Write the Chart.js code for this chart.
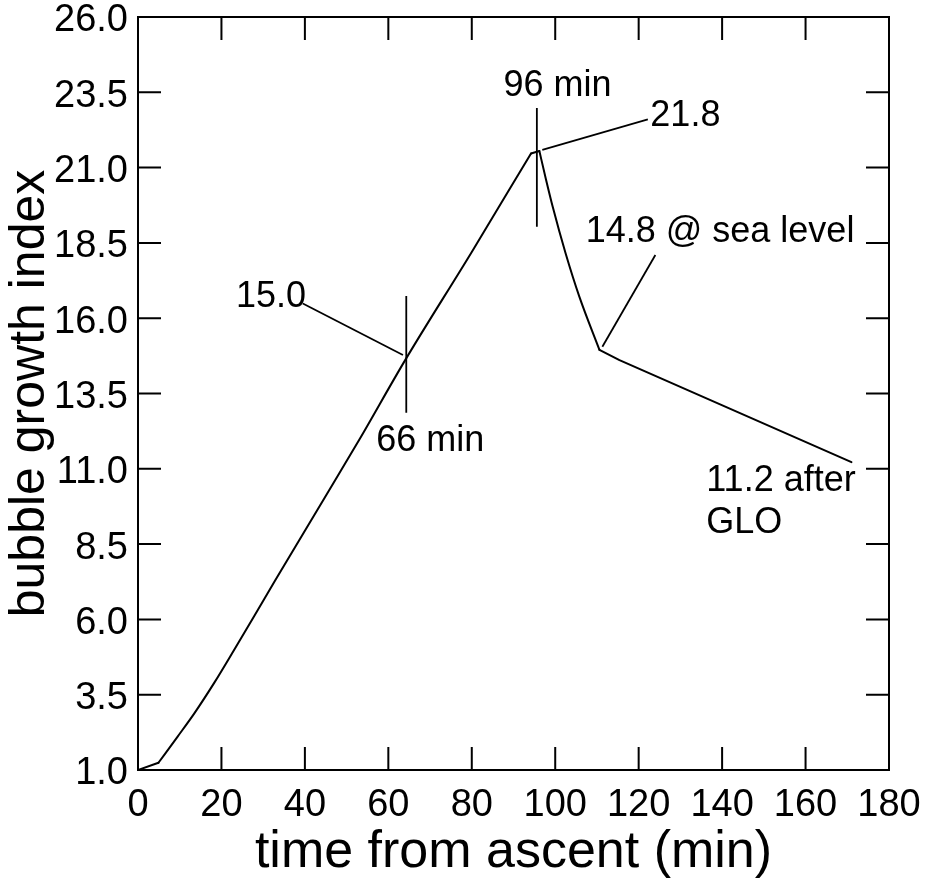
<!DOCTYPE html>
<html><head><meta charset="utf-8">
<script src="https://cdn.jsdelivr.net/npm/chart.js@4.4.0/dist/chart.umd.min.js"></script>
<style>html,body{margin:0;padding:0;background:#fff;}#wrap{width:925px;height:884px;}</style>
</head><body><div id="wrap"><canvas id="c" width="925" height="884"></canvas></div>
<script>
// ---- data ----
const timeMin     = [0, 4.9, 9.5, 13.5, 18.3, 23.1, 27.9, 32.9, 45.1, 53.1, 64.0, 80.0, 94.2, 96.2, 97.8, 99.4, 102.5, 105.8, 110.6, 115.4, 140.2, 171.0];
const growthIndex = [1.0, 1.24, 2.11, 2.88, 3.90, 5.00, 6.12, 7.30, 10.12, 11.98, 14.60, 18.20, 21.47, 21.55, 20.60, 19.70, 18.15, 16.71, 14.95, 14.61, 13.10, 11.22];
// times where the curve bends sharply (segments between them are smoothed or straight)
const breakTimes    = [0, 4.9, 94.2, 96.2, 110.6, 171.0];
const segmentSmooth = [false, true, false, true, false];
const xTicks = [0, 20, 40, 60, 80, 100, 120, 140, 160, 180];
const yTicks = [1.0, 3.5, 6.0, 8.5, 11.0, 13.5, 16.0, 18.5, 21.0, 23.5, 26.0];
const xTitle = 'time from ascent (min)';
const yTitle = 'bubble growth index';

// annotation leader lines / markers (data units: [x1, y1, x2, y2])
const markerLines = [
  [64.3, 16.74, 64.3, 12.86],   // 66 min marker
  [39.5, 16.49, 63.5, 14.78],   // 15.0 leader
  [95.6, 22.98, 95.6, 19.04],   // 96 min marker
  [96.9, 21.59, 122.2, 22.60],  // 21.8 leader
  [124.0, 18.10, 111.3, 15.05]  // 14.8 leader
];
// annotation texts with anchor (left x, middle y) in data units
const noteTexts = ['15.0', '66 min', '96 min', '21.8', '14.8 @ sea level', '11.2 after', 'GLO'];
const noteX     = [23.5, 57.1, 87.6, 122.8, 107.3, 136.2, 136.2];
const noteY     = [16.69, 11.91, 23.69, 22.70, 18.85, 10.58, 9.19];

const FONT = "'Liberation Sans', Arial, sans-serif";

const pts = timeMin.map((t, i) => ({x: t, y: growthIndex[i]}));
const datasets = [];
for (let s = 0; s < breakTimes.length - 1; s++) {
  const a = breakTimes[s], b = breakTimes[s + 1];
  datasets.push({
    data: pts.filter(p => p.x >= a && p.x <= b),
    borderColor: '#000', borderWidth: 2, pointRadius: 0, showLine: true, fill: false,
    borderCapStyle: 'round', borderJoinStyle: 'round',
    cubicInterpolationMode: segmentSmooth[s] ? 'monotone' : 'default', tension: 0
  });
}
markerLines.forEach(l => datasets.push({
  data: [{x: l[0], y: l[1]}, {x: l[2], y: l[3]}],
  borderColor: '#000', borderWidth: 1.8, pointRadius: 0, showLine: true, fill: false
}));

const framePlugin = {
  id: 'frame',
  afterDatasetsDraw(chart) {
    const {ctx, chartArea: a, scales: {x, y}} = chart;
    ctx.save();
    ctx.strokeStyle = '#000';
    ctx.lineWidth = 2;
    ctx.strokeRect(a.left, a.top, a.right - a.left, a.bottom - a.top);
    const L = 23;
    ctx.beginPath();
    xTicks.forEach(v => {
      const px = x.getPixelForValue(v);
      ctx.moveTo(px, a.bottom); ctx.lineTo(px, a.bottom - L);
      ctx.moveTo(px, a.top); ctx.lineTo(px, a.top + L);
    });
    yTicks.forEach(v => {
      const py = y.getPixelForValue(v);
      ctx.moveTo(a.left, py); ctx.lineTo(a.left + L, py);
      ctx.moveTo(a.right, py); ctx.lineTo(a.right - L, py);
    });
    ctx.stroke();
    ctx.fillStyle = '#000';
    ctx.font = '36px ' + FONT;
    ctx.textAlign = 'left';
    ctx.textBaseline = 'middle';
    noteTexts.forEach((t, i) => {
      ctx.fillText(t, x.getPixelForValue(noteX[i]), y.getPixelForValue(noteY[i]));
    });
    ctx.restore();
  }
};

new Chart(document.getElementById('c'), {
  type: 'scatter',
  data: {datasets},
  options: {
    responsive: false, animation: false, devicePixelRatio: 1,
    layout: {padding: {left: 0, top: 17, right: 36, bottom: 0}},
    plugins: {legend: {display: false}, tooltip: {enabled: false}},
    scales: {
      x: {
        type: 'linear', min: 0, max: 180,
        afterBuildTicks: s => { s.ticks = xTicks.map(v => ({value: v})); },
        afterFit: s => { s.height = 114; s.paddingLeft = 0; s.paddingRight = 0; },
        grid: {display: false, drawTicks: false},
        border: {display: false},
        ticks: {color: '#000', font: {family: FONT, size: 38}, padding: 13, maxRotation: 0, autoSkip: false,
                callback: v => String(v)},
        title: {display: true, text: xTitle, color: '#000', font: {family: FONT, size: 52}, padding: {top: 0, bottom: 0}}
      },
      y: {
        type: 'linear', min: 1, max: 26,
        afterBuildTicks: s => { s.ticks = yTicks.map(v => ({value: v})); },
        afterFit: s => { s.width = 138; s.paddingTop = 0; s.paddingBottom = 0; },
        grid: {display: false, drawTicks: false},
        border: {display: false},
        ticks: {color: '#000', font: {family: FONT, size: 38}, padding: 10, autoSkip: false, labelOffset: 4,
                callback: v => Number(v).toFixed(1)},
        title: {display: true, text: yTitle, color: '#000', font: {family: FONT, size: 50}, padding: {top: 0, bottom: 0}}
      }
    }
  },
  plugins: [framePlugin]
});
</script>
</body></html>
